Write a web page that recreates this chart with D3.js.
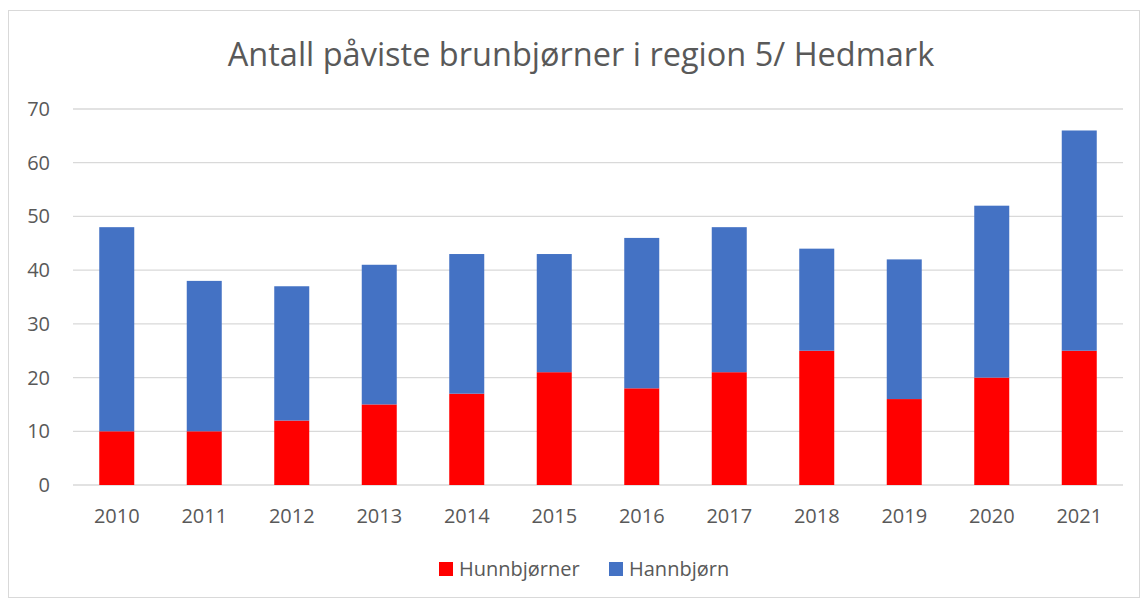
<!DOCTYPE html>
<html lang="no">
<head>
    <meta charset="UTF-8">
    <title>Antall påviste brunbjørner i region 5/ Hedmark</title>
    <script src="https://d3js.org/d3.v7.min.js"></script>
    <style>
        body { margin: 0; background: #fff; font-family: "Open Sans", "Noto Sans", Arial, sans-serif; }
        .grid line { stroke: #d9d9d9; stroke-width: 1.3; }
        .axis text { fill: #595959; font-size: 20px; }
    </style>
</head>
<body>
    <svg width="1143" height="600"></svg>
    <script>
        // data
        const years = ["2010", "2011", "2012", "2013", "2014", "2015", "2016", "2017", "2018", "2019", "2020", "2021"];
        const hunnbjorner = [10, 10, 12, 15, 17, 21, 18, 21, 25, 16, 20, 25];
        const hannbjorn = [38, 28, 25, 26, 26, 22, 28, 27, 19, 26, 32, 41];
        const yTicks = [0, 10, 20, 30, 40, 50, 60, 70];
        const seriesNames = ["Hunnbjørner", "Hannbjørn"];
        const seriesColors = ["#ff0000", "#4472c4"];

        const svg = d3.select("svg");

        // chart border
        svg.append("rect")
            .attr("x", 8.5).attr("y", 10.5)
            .attr("width", 1131).attr("height", 587)
            .attr("fill", "none")
            .attr("stroke", "#d9d9d9");

        const margin = { top: 109, left: 73, right: 20, bottom: 115 };
        const width = 1050;
        const height = 376;
        const g = svg.append("g").attr("transform", `translate(${margin.left},${margin.top})`);

        const x = d3.scaleBand().domain(years).range([0, width]);
        const y = d3.scaleLinear().domain([0, 70]).range([height, 0]);
        const barW = x.bandwidth() * 0.4;

        svg.append("text")
            .attr("x", 581)
            .attr("y", 66)
            .attr("text-anchor", "middle")
            .attr("fill", "#595959")
            .style("font-size", "32.5px")
            .text("Antall påviste brunbjørner i region 5/ Hedmark");

        // gridlines
        g.append("g").attr("class", "grid")
            .selectAll("line")
            .data(yTicks)
            .enter().append("line")
            .attr("x1", 0).attr("x2", width)
            .attr("y1", d => y(d)).attr("y2", d => y(d));

        // y labels
        g.append("g").attr("class", "axis")
            .selectAll("text")
            .data(yTicks)
            .enter().append("text")
            .attr("x", -23)
            .attr("y", d => y(d))
            .attr("dy", "0.35em")
            .attr("text-anchor", "end")
            .text(d => d);

        // x labels
        g.append("g").attr("class", "axis")
            .selectAll("text")
            .data(years)
            .enter().append("text")
            .attr("x", d => x(d) + x.bandwidth() / 2)
            .attr("y", height + 38)
            .attr("text-anchor", "middle")
            .text(d => d);

        const stacked = d3.stack().keys([0, 1])(years.map((yr, i) => ({ year: yr, 0: hunnbjorner[i], 1: hannbjorn[i] })));

        g.selectAll(".series")
            .data(stacked)
            .enter().append("g")
            .attr("fill", (d, i) => seriesColors[i])
            .selectAll("rect")
            .data(d => d)
            .enter().append("rect")
            .attr("x", d => x(d.data.year) + (x.bandwidth() - barW) / 2)
            .attr("y", d => y(d[1]))
            .attr("width", barW)
            .attr("height", d => y(d[0]) - y(d[1]));

        // legend
        const legendX = [439, 609];
        const legend = svg.append("g");
        seriesNames.forEach((name, i) => {
            legend.append("rect")
                .attr("x", legendX[i]).attr("y", 562)
                .attr("width", 14).attr("height", 14)
                .attr("fill", seriesColors[i]);
            legend.append("text")
                .attr("x", legendX[i] + 20).attr("y", 569)
                .attr("dy", "0.35em")
                .attr("fill", "#595959")
                .style("font-size", "20px")
                .text(name);
        });
    </script>
</body>
</html>
